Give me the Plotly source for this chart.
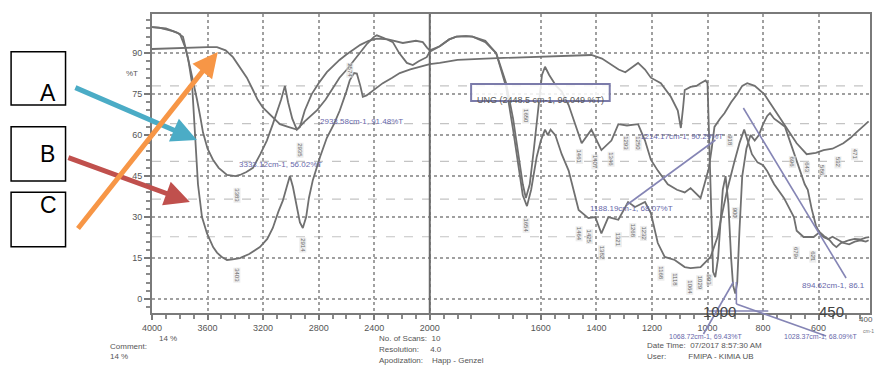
import numpy as np
import plotly.graph_objects as go

# ---------------- data (wavenumber cm-1, %T) ----------------
A_wn = [4000, 3950, 3900, 3850, 3799, 3760, 3727, 3700, 3676, 3650, 3633, 3600, 3561, 3520, 3460, 3400, 3367,
        3320, 3273, 3220, 3173, 3130, 3101, 3070, 3043, 3020, 2990, 2957, 2900, 2850, 2813, 2750, 2700, 2650,
        2597, 2550, 2504, 2450, 2400, 2381, 2330, 2266, 2220, 2165, 2122, 2080, 2022, 2000, 1964, 1930, 1904,
        1870, 1846, 1800, 1761, 1725, 1700, 1680, 1665, 1654, 1640, 1625, 1610, 1596, 1585, 1570, 1545, 1525,
        1500, 1480, 1453, 1418, 1382, 1346, 1321, 1290, 1250, 1225, 1204, 1179, 1143, 1110, 1082, 1061, 1040,
        1025, 1011, 995, 985, 975, 955, 939, 915, 893, 875, 857, 830, 796, 770, 750, 725, 704, 679, 643, 610,
        582, 550, 511, 485, 464, 440, 420]
A_T = [99.5, 99.3, 98.7, 98.0, 97.0, 92.0, 85.0, 79.0, 73.0, 66.0, 61.0, 55.0, 51.0, 48.0, 45.4, 45.0, 45.4,
       46.5, 48.0, 53.0, 58.0, 64.0, 68.0, 73.0, 78.0, 72.0, 66.0, 62.0, 65.0, 67.5, 69.0, 73.0, 77.0, 81.0,
       84.0, 87.0, 90.0, 93.5, 96.0, 96.5, 95.5, 94.0, 90.0, 86.4, 85.6, 87.0, 88.5, 90.5, 92.5, 95.0, 96.0,
       96.2, 96.0, 94.0, 90.0, 79.0, 66.0, 52.0, 42.0, 37.0, 42.0, 55.0, 70.0, 82.0, 85.0, 82.0, 78.0, 76.0,
       71.0, 65.0, 57.0, 62.0, 54.5, 58.0, 64.0, 63.5, 64.0, 58.0, 51.0, 47.0, 42.0, 40.0, 39.0, 40.6, 38.5,
       37.0, 42.0, 48.0, 55.0, 63.0, 66.0, 68.0, 72.0, 75.0, 78.0, 79.0, 78.0, 75.0, 71.0, 68.0, 64.0, 61.0,
       57.0, 53.0, 53.5, 54.5, 55.0, 57.0, 59.0, 61.0, 63.0, 65.0]

B_wn = [4000, 3900, 3820, 3777, 3740, 3712, 3691, 3669, 3640, 3604, 3560, 3532, 3500, 3460, 3420, 3367, 3300,
        3223, 3170, 3130, 3090, 3058, 3030, 3007, 2985, 2960, 2935, 2914, 2890, 2870, 2842, 2790, 2741, 2690,
        2648, 2600, 2576, 2545, 2525, 2500, 2482, 2455, 2432, 2380, 2338, 2270, 2216, 2140, 2072, 2000, 1964,
        1900, 1800, 1750, 1632, 1500, 1418, 1380, 1357, 1320, 1296, 1270, 1250, 1225, 1204, 1168, 1132, 1107,
        1096, 1088, 1082, 1061, 1040, 1025, 1007, 1000, 995, 990, 985, 980, 972, 962, 952, 945, 935, 925, 915,
        908, 900, 893, 885, 875, 860, 845, 830, 815, 800, 785, 775, 760, 740, 721, 696, 670, 650, 639, 625,
        610, 596, 580, 565, 550, 530, 510, 490, 470, 450, 430, 420]
B_T = [99.5, 99.0, 97.5, 96.0, 88.0, 79.0, 61.0, 42.0, 30.0, 24.0, 19.0, 17.0, 15.5, 14.3, 14.5, 15.0, 16.5,
       19.0, 22.0, 26.0, 32.0, 36.0, 41.0, 45.0, 41.0, 34.0, 28.0, 26.0, 30.0, 37.0, 43.5, 52.0, 59.0, 64.0,
       69.0, 76.0, 80.0, 82.7, 82.5, 78.0, 74.0, 74.5, 75.4, 77.5, 79.0, 81.0, 82.7, 84.0, 85.0, 86.0, 86.4,
       87.5, 88.0, 88.2, 88.5, 89.0, 89.3, 88.0, 86.4, 84.0, 83.0, 85.0, 86.4, 84.0, 81.0, 79.0, 74.0, 69.0,
       62.6, 70.0, 76.5, 77.6, 78.0, 79.0, 80.0, 79.0, 62.0, 38.0, 20.0, 10.0, 8.0, 15.0, 30.0, 40.0, 45.0,
       35.0, 15.0, 5.0, 2.0, 6.0, 25.0, 45.0, 55.0, 60.0, 58.0, 60.0, 64.0, 67.0, 68.0, 66.0, 64.5, 63.0,
       55.6, 48.0, 42.0, 40.0, 33.0, 27.0, 24.0, 22.5, 22.0, 22.8, 21.5, 20.5, 20.0, 21.0, 21.5, 21.0, 21.5]

C_wn = [4000, 3900, 3800, 3700, 3600, 3532, 3470, 3417, 3360, 3317, 3273, 3240, 3201, 3140, 3079, 3020, 2957,
        2935, 2900, 2850, 2800, 2741, 2700, 2650, 2600, 2554, 2500, 2440, 2381, 2300, 2194, 2100, 2050, 2020,
        2000, 1964, 1930, 1904, 1870, 1846, 1800, 1761, 1725, 1700, 1680, 1665, 1650, 1635, 1615, 1600, 1585,
        1575, 1565, 1548, 1525, 1500, 1464, 1429, 1404, 1382, 1357, 1321, 1286, 1261, 1225, 1204, 1179, 1154,
        1118, 1082, 1061, 1025, 989, 964, 950, 929, 904, 885, 868, 855, 840, 820, 800, 786, 760, 725, 689, 679,
        654, 636, 618, 596, 580, 561, 548, 536, 520, 505, 489, 470, 450, 430, 418]
C_T = [91.5, 91.7, 92.0, 92.1, 92.2, 92.2, 91.0, 88.5, 84.0, 81.0, 76.5, 73.0, 70.0, 67.0, 64.0, 63.0, 62.0,
       63.0, 69.0, 75.0, 79.0, 83.0, 85.0, 87.5, 89.5, 91.0, 93.0, 94.5, 95.3, 95.0, 93.7, 94.5, 94.0, 92.0,
       91.0, 92.5, 95.0, 96.0, 96.2, 96.0, 94.5, 90.0, 77.6, 62.0, 48.0, 38.0, 34.0, 40.0, 52.0, 58.0, 62.0,
       60.0, 62.0, 60.0, 53.0, 47.0, 32.6, 29.6, 30.0, 24.0, 30.0, 29.0, 35.5, 33.7, 35.5, 31.5, 20.5, 15.4,
       14.3, 11.7, 11.3, 11.7, 15.4, 22.7, 30.0, 40.0, 50.0, 57.0, 62.0, 58.0, 53.0, 50.0, 49.0, 47.0, 42.0,
       37.0, 30.0, 25.0, 22.7, 22.7, 22.7, 24.5, 23.0, 21.6, 20.0, 19.0, 20.5, 21.0, 21.6, 22.0, 21.8, 22.5, 22.7]

x_ticks = [4000, 3600, 3200, 2800, 2400, 2000, 1600, 1400, 1200, 1000, 800, 600]
x_ticklabels = ["4000", "3600", "3200", "2800", "2400", "2000", "1600", "1400", "1200", "1000", "800", "600"]
y_ticks = [0, 15, 30, 45, 60, 75, 90]
y_ticklabels = ["0", "15", "30", "45", "60", "75", "90"]
second_grid_T = [78.0, 64.2, 50.4, 36.6, 22.8]

# peak marker labels: (wavenumber, %T, text)
mark_wn = [3389, 3389, 2935, 2914, 2576, 1654, 1654, 1461, 1407, 1346, 1293, 1250, 918, 696, 643, 586, 532, 471,
           1464, 1425, 1382, 1321, 1268, 1232, 1168, 1118, 1064, 1029, 993, 900, 679, 621]
mark_T = [38, 8.8, 54.5, 19.8, 83.8, 67, 27, 52, 50, 51, 57, 57, 58, 50, 48, 47, 50, 53,
          24, 22.7, 16.8, 21.6, 25, 24, 9.5, 7, 4.4, 5.8, 7, 31.5, 17, 15.4]
mark_txt = ["3383", "3403", "2935", "2914", "2574", "1650", "1654", "1461", "1407", "1346", "1293", "1250",
            "918", "696", "643", "586", "532", "471", "1464", "1425", "1382", "1321", "1268", "1232",
            "1168", "1118", "1064", "1029", "993", "900", "679", "621"]

# peak readout labels: (wavenumber, %T, text)
read_wn = [3388, 2806, 1250, 1429, 668]
read_T = [49.4, 64.8, 59.3, 33.3, 5.1]
read_txt = ["3333.12cm-1, 56.02%T", "2933.58cm-1, 91.48%T", "1214.17cm-1, 90.29%T",
            "1188.19cm-1, 68.07%T", "894.62cm-1, 86.1"]

# ---------------- helpers ----------------
def pos(wn):
    wn = np.asarray(wn, dtype=float)
    return np.where(wn >= 2000, (4000 - wn) / 2.0, 1000 + (2000 - wn))

L, R, T_, B_ = 152, 5, 14, 59
W, H = 877, 372
PW, PH = W - L - R, H - T_ - B_

def px(x):
    return (x - L) / PW

def py(y):
    return (H - B_ - y) / PH

x_range = [0, float(pos(415))]
y_range = [-5.1, 104.3]

line_col = "#707070"
fig = go.Figure()
for wn, tv in [(A_wn, A_T), (B_wn, B_T), (C_wn, C_T)]:
    fig.add_trace(go.Scatter(x=pos(wn), y=tv, mode="lines",
                             line=dict(color=line_col, width=1.8), hoverinfo="skip",
                             showlegend=False))

minor_wn = [w for w in range(3900, 2000, -100) if w % 400 != 0] + \
           [w for w in range(1950, 400, -50) if w % 200 != 0]

fig.update_xaxes(range=x_range, tickmode="array", tickvals=pos(x_ticks), ticktext=x_ticklabels,
                 showgrid=True, gridcolor="#a0a0a0", griddash="dot", gridwidth=1.5,
                 showline=True, mirror=True, linecolor="#7a7a7a", linewidth=2,
                 ticks="outside", ticklen=5, tickcolor="#7a7a7a", tickwidth=1.5,
                 minor=dict(tickmode="array", tickvals=pos(minor_wn), ticks="outside",
                            ticklen=4, tickcolor="#8a8a8a", showgrid=False),
                 tickfont=dict(family="Liberation Sans, Arial", size=9, color="#555555"),
                 zeroline=False)
fig.update_yaxes(range=y_range, tickmode="array", tickvals=y_ticks, ticktext=y_ticklabels,
                 showgrid=True, gridcolor="#a0a0a0", griddash="dot", gridwidth=1.5,
                 showline=True, mirror=True, linecolor="#7a7a7a", linewidth=2,
                 ticks="outside", ticklen=6, tickcolor="#7a7a7a", tickwidth=1.5,
                 minor=dict(dtick=3, tick0=0, ticks="outside", ticklen=4, tickcolor="#8a8a8a",
                            showgrid=False),
                 tickfont=dict(family="Liberation Sans, Arial", size=9, color="#555555"),
                 zeroline=False)

shapes = []
# secondary dashed grid
for tv in second_grid_T:
    shapes.append(dict(type="line", xref="paper", yref="y", x0=0, x1=1, y0=tv, y1=tv,
                       line=dict(color="#c4c4c4", width=1.2, dash="dash"), layer="below"))
# solid divider at 2000
shapes.append(dict(type="line", xref="x", yref="paper", x0=float(pos(2000)), x1=float(pos(2000)),
                   y0=0, y1=1, line=dict(color="#6a6a6a", width=2)))
# leader lines
lead = "#8585b5"
for (x0, y0, x1, y1) in [(717, 140, 628, 205), (745, 108, 848, 278), (735, 282, 705, 334),
                         (738, 282, 738, 304), (738, 304, 828, 336), (710, 311, 770, 311)]:
    shapes.append(dict(type="line", xref="paper", yref="paper", x0=px(x0), y0=py(y0), x1=px(x1),
                       y1=py(y1), line=dict(color=lead, width=1.6)))
# letter boxes
for (y0, y1) in [(51.7, 105), (126.7, 181), (192.3, 246.7)]:
    shapes.append(dict(type="rect", xref="paper", yref="paper", x0=px(10.7), x1=px(65.3),
                       y0=py(y1), y1=py(y0), line=dict(color="#000000", width=1.5),
                       fillcolor="white"))
# UNG box
shapes.append(dict(type="rect", xref="paper", yref="paper", x0=px(472), x1=px(611), y0=py(101),
                   y1=py(84), line=dict(color="#7b7baa", width=2), fillcolor="rgba(255,255,255,0.85)"))

ann = []
# letters
for letter, yc in [("A", 78.3), ("B", 153.8), ("C", 219.5)]:
    ann.append(dict(text=letter, xref="paper", yref="paper", x=px(38), y=py(yc), showarrow=False,
                    font=dict(family="Liberation Sans, Arial", size=23, color="#000000")))
# coloured arrows
for col, tail, tip in [("#4BACC6", (74, 87), (197, 140)), ("#C0504D", (67, 157), (190, 202)),
                       ("#F79646", (77, 230), (218, 52))]:
    ann.append(dict(text="", xref="paper", yref="paper", x=px(tip[0]), y=py(tip[1]),
                    ax=tail[0] - tip[0], ay=tail[1] - tip[1], showarrow=True, arrowhead=2,
                    arrowsize=1.0, arrowwidth=5, arrowcolor=col, standoff=0))
# %T label
ann.append(dict(text="%T", xref="paper", yref="y", x=px(140), y=82.7, xanchor="right",
                showarrow=False, font=dict(family="Liberation Sans, Arial", size=8, color="#555555")))
# UNG text
ann.append(dict(text="UNG (2448.5 cm-1, 96.049 %T)", xref="paper", yref="paper", x=px(541.5), y=py(92.5),
                showarrow=False, font=dict(family="Liberation Sans Narrow, Liberation Sans, Arial", size=9,
                                           color="#555555")))
# readouts
for wn, tv, t in zip(read_wn, read_T, read_txt):
    ann.append(dict(text=t, x=float(pos(wn)), y=tv, xref="x", yref="y", showarrow=False,
                    xanchor="left", font=dict(family="Liberation Sans, Arial", size=8, color="#6767aa")))
# peak markers
for wn, tv, t in zip(mark_wn, mark_T, mark_txt):
    ann.append(dict(text=t, x=float(pos(wn)), y=tv, xref="x", yref="y", showarrow=False, textangle=90,
                    font=dict(family="Liberation Sans, Arial", size=6, color="#666666"),
                    bgcolor="rgba(225,225,225,0.6)", borderpad=0))
# bottom texts
small = dict(family="Liberation Sans, Arial", size=8, color="#555555")
for t, x, y, anchor in [("14 %", 168, 345, "center"), ("Comment:", 108, 353, "left"),
                        ("14 %", 108, 363, "left"), ("No. of Scans:  10", 378, 345, "left"),
                        ("Resolution:     4.0", 378, 356, "left"),
                        ("Apodization:    Happ - Genzel", 378, 367, "left"),
                        ("Date Time:  07/2017 8:57:30 AM", 646, 352, "left"),
                        ("User:          FMIPA - KIMIA UB", 646, 363, "left")]:
    ann.append(dict(text=t, xref="paper", yref="paper", x=px(x), y=py(y), xanchor=anchor,
                    showarrow=False, font=small))
ann.append(dict(text="400", xref="paper", yref="paper", x=1.0 + 5 / PW, y=py(326), xanchor="right",
                showarrow=False, font=dict(family="Liberation Sans, Arial", size=8, color="#555555")))
for t, x, y in [("1068.72cm-1, 69.43%T", 668, 342), ("1028.37cm-1, 68.09%T", 784, 342)]:
    ann.append(dict(text=t, xref="paper", yref="paper", x=px(x), y=py(y), xanchor="left",
                    showarrow=False, font=dict(family="Liberation Sans, Arial", size=7, color="#6767aa")))
big = dict(family="Liberation Sans Narrow, Liberation Sans, Arial", size=15, color="#444444")
ann.append(dict(text="1000", xref="paper", yref="paper", x=px(740), y=py(322), showarrow=False, font=big))
ann.append(dict(text="450", xref="paper", yref="paper", x=px(848), y=py(322), showarrow=False, font=big))
ann.append(dict(text="cm-1", xref="paper", yref="paper", x=px(863), y=py(336), showarrow=False,
                xanchor="left", font=dict(family="Liberation Sans, Arial", size=5, color="#777777")))

fig.update_layout(width=W, height=H, margin=dict(l=L, r=R, t=T_, b=B_),
                  paper_bgcolor="white", plot_bgcolor="white", shapes=shapes, annotations=ann,
                  showlegend=False)
fig.write_html("out.html")
